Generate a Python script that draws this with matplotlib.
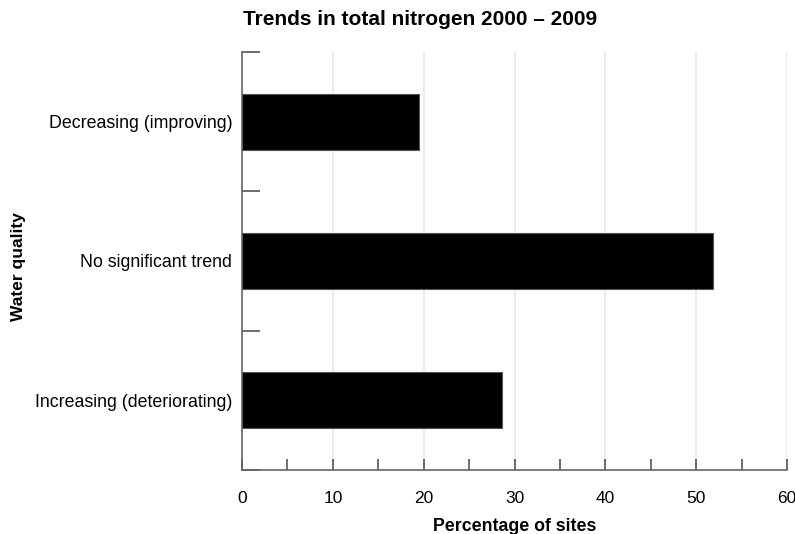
import matplotlib
matplotlib.use("Agg")
import matplotlib.pyplot as plt

plt.rcParams['font.family'] = ['Liberation Sans', 'DejaVu Sans']

categories = ["Decreasing (improving)", "No significant trend", "Increasing (deteriorating)"]
values = [19.5, 51.9, 28.6]
xticks = [0, 10, 20, 30, 40, 50, 60]

fig = plt.figure(figsize=(7.95, 5.34), dpi=100)
ax = fig.add_axes([0.3044, 0.1199, 0.6856, 0.7827])

pos = list(range(len(categories)))
ax.barh(pos, values, height=0.4, color="black", edgecolor="#555555", linewidth=0.8, zorder=3)

ax.set_xlim(0, 60)
ax.set_ylim(2.5, -0.5)

ax.set_xticks(xticks)
ax.set_xticks(range(0, 61, 5), minor=True)
ax.tick_params(axis="x", which="both", direction="in", length=8, width=1.2,
               color="#555555", labelsize=12.5, pad=15)
ax.xaxis.grid(True, which="major", color="#e6e6e6", linewidth=1.2, zorder=0)

ax.set_yticks([-0.5, 0.5, 1.5, 2.5])
ax.set_yticklabels([])
ax.set_yticks(pos, minor=True)
ax.set_yticklabels(categories, minor=True)
ax.tick_params(axis="y", which="major", direction="in", length=13, width=1.2, color="#555555")
ax.tick_params(axis="y", which="minor", length=0, labelsize=12.8, pad=7)

for s in ["top", "right"]:
    ax.spines[s].set_visible(False)
for s in ["left", "bottom"]:
    ax.spines[s].set_color("#666666")
    ax.spines[s].set_linewidth(1.2)

ax.set_xlabel("Percentage of sites", fontsize=12.8, fontweight="bold", labelpad=9)
fig.text(0.023, 0.5, "Water quality", rotation=90, fontsize=12.5, fontweight="bold",
         va="center", ha="center")
fig.text(0.528, 0.963, "Trends in total nitrogen 2000 \u2013 2009", fontsize=15,
         fontweight="bold", ha="center", va="center")

fig.savefig("out.png", dpi=100)
